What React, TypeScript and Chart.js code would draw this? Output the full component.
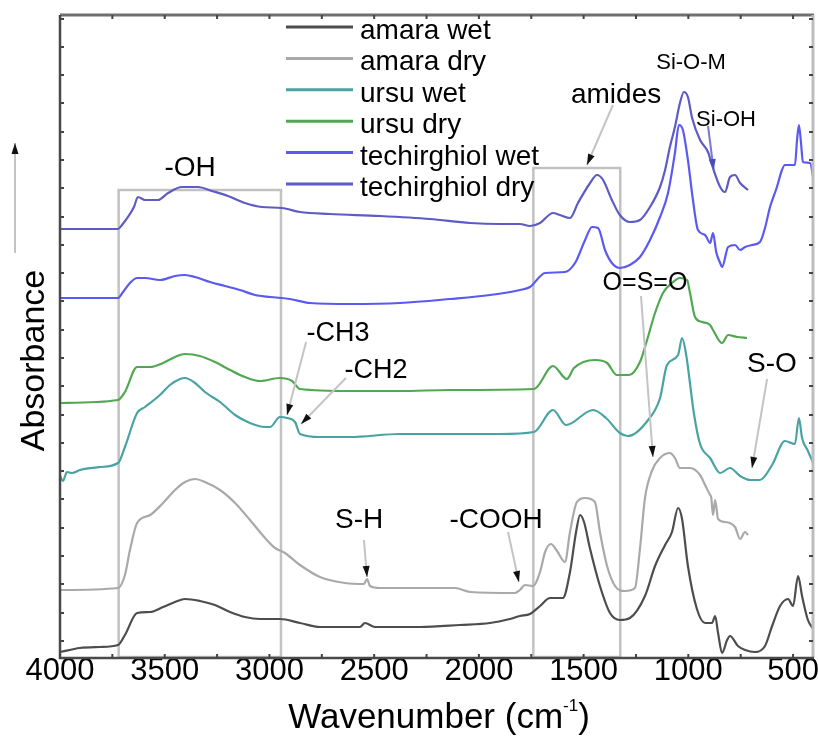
import React, { useEffect, useRef } from 'react';
import { Chart, registerables } from 'chart.js';

Chart.register(...registerables);

const FONT = '"Liberation Sans", Arial, Helvetica, sans-serif';

// ---- axis ----
const X_MIN = 400;
const X_MAX = 4000;
const X_TICKS = [4000, 3500, 3000, 2500, 2000, 1500, 1000, 500];
const X_MINOR = [4000, 3750, 3500, 3250, 3000, 2750, 2500, 2250, 2000, 1750, 1500, 1250, 1000, 750, 500];
const Y_MIN = 0;
const Y_MAX = 6.43;
const Y_MINOR = [0.17, 0.45, 0.74, 1.02, 1.3, 1.59, 1.87, 2.15, 2.43, 2.72, 3.0, 3.28, 3.57, 3.85, 4.13, 4.41, 4.7, 4.98, 5.26, 5.55, 5.83, 6.11, 6.39];
const X_TITLE = 'Wavenumber (cm';
const X_TITLE_SUP = '-1';
const X_TITLE_END = ')';
const Y_TITLE = 'Absorbance';

// ---- series (wavenumber cm-1, absorbance offset a.u.) ----
const LABELS = ['amara wet', 'amara dry', 'ursu wet', 'ursu dry', 'techirghiol wet', 'techirghiol dry'];
const COLORS = ['#4d4d4d', '#a9a9a9', '#4aa3a3', '#52a852', '#5a5af2', '#5c5cc4'];

const amaraWet: [number, number][] = [
  [4000, 0.06], [3905, 0.10], [3809, 0.11], [3723, 0.13], [3690, 0.23], [3632, 0.45], [3570, 0.46], [3508, 0.51],
  [3451, 0.56], [3403, 0.59], [3332, 0.57], [3260, 0.53], [3188, 0.46], [3117, 0.41], [3045, 0.39], [2950, 0.39],
  [2854, 0.35], [2759, 0.31], [2568, 0.31], [2544, 0.35], [2496, 0.31], [2281, 0.31], [2090, 0.33], [1947, 0.35],
  [1852, 0.39], [1804, 0.42], [1756, 0.44], [1708, 0.52], [1660, 0.60], [1599, 0.60], [1565, 0.86], [1536, 1.26],
  [1517, 1.43], [1498, 1.36], [1469, 1.09], [1422, 0.72], [1374, 0.45], [1327, 0.38], [1279, 0.40], [1207, 0.62],
  [1159, 0.92], [1111, 1.13], [1078, 1.26], [1049, 1.50], [1030, 1.39], [1002, 0.92], [959, 0.49], [920, 0.35],
  [887, 0.35], [872, 0.42], [858, 0.25], [839, 0.05], [815, 0.18], [801, 0.22], [763, 0.12], [729, 0.08],
  [682, 0.06], [634, 0.12], [600, 0.32], [562, 0.52], [524, 0.59], [500, 0.52], [476, 0.82], [457, 0.62],
  [429, 0.38], [400, 0.28],
];

const amaraDry: [number, number][] = [
  [4000, 0.68], [3723, 0.70], [3690, 0.83], [3666, 1.08], [3632, 1.35], [3570, 1.43], [3508, 1.55], [3451, 1.68],
  [3403, 1.76], [3355, 1.79], [3308, 1.76], [3236, 1.68], [3164, 1.55], [3093, 1.38], [3021, 1.20], [2973, 1.10],
  [2926, 1.05], [2854, 0.93], [2759, 0.81], [2639, 0.75], [2549, 0.74], [2534, 0.79], [2520, 0.72], [2472, 0.70],
  [2114, 0.70], [2042, 0.66], [1828, 0.65], [1804, 0.68], [1780, 0.73], [1742, 0.72], [1708, 0.86], [1684, 1.06],
  [1656, 1.14], [1627, 1.07], [1589, 0.96], [1565, 1.26], [1532, 1.56], [1493, 1.60], [1446, 1.56], [1422, 1.26],
  [1388, 0.92], [1350, 0.72], [1303, 0.67], [1255, 0.70], [1231, 1.09], [1207, 1.60], [1174, 1.87], [1135, 2.00],
  [1088, 2.05], [1064, 2.00], [1040, 1.90], [992, 1.90], [944, 1.83], [920, 1.73], [896, 1.63], [891, 1.61],
  [882, 1.43], [872, 1.58], [858, 1.39], [825, 1.36], [777, 1.31], [753, 1.19], [729, 1.26], [715, 1.23],
];

const ursuWet: [number, number][] = [
  [4000, 1.82], [3986, 1.77], [3967, 1.86], [3943, 1.85], [3905, 1.88], [3809, 1.91], [3723, 1.95], [3690, 2.11],
  [3632, 2.45], [3594, 2.51], [3523, 2.63], [3475, 2.73], [3427, 2.79], [3403, 2.80], [3355, 2.75], [3308, 2.66],
  [3236, 2.56], [3164, 2.43], [3093, 2.35], [3021, 2.31], [2997, 2.31], [2950, 2.41], [2916, 2.40], [2878, 2.36],
  [2854, 2.24], [2759, 2.21], [2615, 2.21], [2377, 2.24], [1899, 2.24], [1737, 2.26], [1646, 2.48], [1584, 2.33],
  [1455, 2.48], [1393, 2.40], [1327, 2.25], [1288, 2.22], [1192, 2.38], [1135, 2.60], [1102, 2.93], [1049, 3.03],
  [1030, 3.20], [1011, 3.04], [973, 2.44], [944, 2.14], [896, 2.00], [848, 1.85], [801, 1.90], [753, 1.82],
  [705, 1.78], [658, 1.78], [600, 1.93], [539, 2.17], [491, 2.14], [472, 2.40], [457, 2.20], [429, 2.07],
  [400, 1.93],
];

const ursuDry: [number, number][] = [
  [4000, 2.55], [3723, 2.58], [3690, 2.66], [3632, 2.91], [3570, 2.91], [3508, 2.95], [3451, 3.01], [3403, 3.04],
  [3332, 3.02], [3260, 2.96], [3188, 2.88], [3117, 2.81], [3045, 2.77], [2950, 2.80], [2892, 2.77], [2854, 2.69],
  [2615, 2.67], [2377, 2.67], [2138, 2.68], [1737, 2.69], [1646, 2.92], [1580, 2.79], [1546, 2.90], [1446, 2.98],
  [1388, 2.95], [1341, 2.83], [1283, 2.83], [1231, 2.96], [1197, 3.18], [1159, 3.45], [1121, 3.65], [1078, 3.75],
  [1040, 3.80], [1006, 3.78], [992, 3.65], [968, 3.41], [934, 3.36], [896, 3.33], [882, 3.28], [839, 3.15],
  [810, 3.23], [767, 3.21], [720, 3.20],
];

const techirghiolWet: [number, number][] = [
  [4000, 3.60], [3723, 3.60], [3699, 3.66], [3666, 3.75], [3632, 3.80], [3594, 3.80], [3523, 3.78], [3451, 3.82],
  [3403, 3.83], [3355, 3.81], [3284, 3.76], [3212, 3.72], [3141, 3.68], [3069, 3.63], [2997, 3.61], [2902, 3.59],
  [2806, 3.55], [2615, 3.54], [2377, 3.55], [2138, 3.59], [1947, 3.63], [1804, 3.68], [1756, 3.71], [1684, 3.85],
  [1589, 3.86], [1541, 3.95], [1493, 4.18], [1460, 4.31], [1431, 4.30], [1398, 4.08], [1365, 3.95], [1327, 3.90],
  [1279, 3.93], [1231, 4.01], [1183, 4.18], [1135, 4.41], [1097, 4.65], [1064, 5.05], [1045, 5.33], [1026, 5.28],
  [1002, 4.98], [978, 4.58], [954, 4.28], [920, 4.23], [896, 4.15], [882, 4.25], [867, 4.06], [848, 3.95],
  [839, 3.91], [810, 4.11], [777, 4.13], [753, 4.08], [729, 4.11], [696, 4.13], [658, 4.16], [634, 4.30],
  [610, 4.51], [577, 4.71], [553, 4.88], [539, 4.93], [491, 4.93], [481, 5.18], [472, 5.33], [462, 5.15],
  [453, 4.96], [419, 4.95], [400, 4.75],
];

const techirghiolDry: [number, number][] = [
  [4000, 4.29], [3723, 4.29], [3704, 4.33], [3647, 4.51], [3628, 4.61], [3594, 4.58], [3532, 4.58], [3484, 4.65],
  [3418, 4.71], [3341, 4.71], [3274, 4.67], [3198, 4.62], [3117, 4.55], [3036, 4.51], [2940, 4.50], [2854, 4.46],
  [2711, 4.44], [2472, 4.42], [2233, 4.39], [2042, 4.35], [1899, 4.34], [1804, 4.34], [1756, 4.32], [1708, 4.35],
  [1646, 4.45], [1613, 4.43], [1565, 4.40], [1527, 4.55], [1469, 4.75], [1436, 4.83], [1407, 4.78], [1365, 4.58],
  [1327, 4.43], [1279, 4.36], [1231, 4.38], [1183, 4.51], [1135, 4.71], [1111, 4.88], [1088, 5.11], [1064, 5.31],
  [1040, 5.55], [1021, 5.66], [1002, 5.61], [982, 5.40], [944, 5.18], [906, 5.06], [887, 4.93], [848, 4.71],
  [825, 4.66], [801, 4.81], [777, 4.83], [753, 4.75], [715, 4.68],
];

const SERIES = [amaraWet, amaraDry, ursuWet, ursuDry, techirghiolWet, techirghiolDry];

// ---- annotations (wavenumber, absorbance) ----
const BOXES: [number, number, number][] = [
  [3720, 2945, 4.68],
  [1740, 1325, 4.9],
];
const NOTE_TEXT = ['-OH', 'amides', 'Si-O-M', 'Si-OH', 'O=S=O', '-CH3', '-CH2', 'S-O', 'S-H', '-COOH'];
const NOTE_X = [3379, 1345, 987, 820, 1207, 2673, 2491, 601, 2572, 1918];
const NOTE_Y = [4.9, 5.63, 5.95, 5.38, 3.75, 3.24, 2.87, 2.94, 1.38, 1.38];
const NOTE_SIZE = [28, 28, 22, 22, 25, 27, 27, 28, 28, 28];
// arrows: [fromX, fromY, toX, toY]
const ARROWS: [number, number, number, number][] = [
  [1360, 5.53, 1484, 4.93],
  [1226, 3.62, 1169, 2.01],
  [2825, 3.16, 2916, 2.43],
  [2635, 2.80, 2849, 2.34],
  [624, 2.79, 696, 1.90],
  [2549, 1.18, 2534, 0.81],
  [1861, 1.26, 1809, 0.76],
];
const SIOH_ARROW: [number, number, number, number] = [906, 5.32, 879, 4.88];

function drawArrow(ctx: CanvasRenderingContext2D, x1: number, y1: number, x2: number, y2: number, line: string, head: string) {
  ctx.save();
  ctx.strokeStyle = line;
  ctx.lineWidth = 2;
  ctx.beginPath();
  ctx.moveTo(x1, y1);
  ctx.lineTo(x2, y2);
  ctx.stroke();
  const ang = Math.atan2(y2 - y1, x2 - x1);
  const len = 11;
  const w = 3.5;
  const bx = x2 - Math.cos(ang) * len;
  const by = y2 - Math.sin(ang) * len;
  ctx.fillStyle = head;
  ctx.beginPath();
  ctx.moveTo(x2, y2);
  ctx.lineTo(bx + Math.sin(ang) * w, by - Math.cos(ang) * w);
  ctx.lineTo(bx - Math.sin(ang) * w, by + Math.cos(ang) * w);
  ctx.closePath();
  ctx.fill();
  ctx.restore();
}

const boxPlugin = {
  id: 'boxes',
  beforeDatasetsDraw(chart: any) {
    const { ctx, scales } = chart;
    const xs = scales.x;
    const ys = scales.y;
    ctx.save();
    ctx.strokeStyle = '#c2c2c2';
    ctx.lineWidth = 2.5;
    BOXES.forEach(([a, b, top]) => {
      const x1 = xs.getPixelForValue(a);
      const x2 = xs.getPixelForValue(b);
      const y1 = ys.getPixelForValue(top);
      const y2 = ys.getPixelForValue(Y_MIN) - 1;
      ctx.strokeRect(x1, y1, x2 - x1, y2 - y1);
    });
    ctx.restore();
  },
};

const decorPlugin = {
  id: 'decor',
  afterDraw(chart: any) {
    const { ctx, chartArea: a, scales } = chart;
    const xs = scales.x;
    const ys = scales.y;
    ctx.save();

    // frame
    ctx.lineCap = 'butt';
    ctx.strokeStyle = '#707070';
    ctx.lineWidth = 3;
    ctx.beginPath();
    ctx.moveTo(a.left, a.top);
    ctx.lineTo(a.right, a.top);
    ctx.stroke();
    ctx.strokeStyle = '#bdbdbd';
    ctx.beginPath();
    ctx.moveTo(a.right - 1, a.top);
    ctx.lineTo(a.right - 1, a.bottom);
    ctx.stroke();
    ctx.strokeStyle = '#4a4a4a';
    ctx.lineWidth = 2.5;
    ctx.beginPath();
    ctx.moveTo(a.left, a.top);
    ctx.lineTo(a.left, a.bottom);
    ctx.lineTo(a.right, a.bottom);
    ctx.stroke();

    // minor ticks
    ctx.strokeStyle = '#444';
    ctx.lineWidth = 2;
    ctx.beginPath();
    Y_MINOR.forEach((v) => {
      const y = ys.getPixelForValue(v);
      ctx.moveTo(a.left, y);
      ctx.lineTo(a.left + 4, y);
      ctx.moveTo(a.right - 1, y);
      ctx.lineTo(a.right - 5, y);
    });
    X_MINOR.forEach((v) => {
      const x = xs.getPixelForValue(v);
      ctx.moveTo(x, a.top);
      ctx.lineTo(x, a.top + 4);
      ctx.moveTo(x, a.bottom);
      ctx.lineTo(x, a.bottom - 4);
    });
    ctx.stroke();

    // arrows
    ARROWS.forEach(([x1, y1, x2, y2]) => {
      drawArrow(ctx, xs.getPixelForValue(x1), ys.getPixelForValue(y1), xs.getPixelForValue(x2), ys.getPixelForValue(y2), '#c4c4c4', '#111');
    });
    drawArrow(ctx, xs.getPixelForValue(SIOH_ARROW[0]), ys.getPixelForValue(SIOH_ARROW[1]), xs.getPixelForValue(SIOH_ARROW[2]), ys.getPixelForValue(SIOH_ARROW[3]), '#7a7ad0', '#4a4ab8');

    // notes
    ctx.fillStyle = '#000';
    ctx.textBaseline = 'middle';
    ctx.textAlign = 'center';
    NOTE_TEXT.forEach((t, i) => {
      ctx.font = `${NOTE_SIZE[i]}px ${FONT}`;
      ctx.fillText(t, xs.getPixelForValue(NOTE_X[i]), ys.getPixelForValue(NOTE_Y[i]));
    });

    // legend
    ctx.textAlign = 'left';
    ctx.textBaseline = 'alphabetic';
    ctx.font = `28px ${FONT}`;
    chart.data.datasets.forEach((ds: any, i: number) => {
      const y = a.top + 12 + i * 31.4;
      ctx.strokeStyle = ds.borderColor;
      ctx.lineWidth = 3;
      ctx.beginPath();
      ctx.moveTo(a.left + 226, y);
      ctx.lineTo(a.left + 293, y);
      ctx.stroke();
      ctx.fillStyle = '#000';
      ctx.fillText(ds.label, a.left + 300, y + 12);
    });

    // x title
    ctx.font = `35px ${FONT}`;
    const w1 = ctx.measureText(X_TITLE).width;
    ctx.font = `17px ${FONT}`;
    const w2 = ctx.measureText(X_TITLE_SUP).width;
    ctx.font = `35px ${FONT}`;
    const w3 = ctx.measureText(X_TITLE_END).width;
    const cx = (a.left + a.right) / 2 + 2;
    let tx = cx - (w1 + w2 + w3) / 2;
    const ty = a.bottom + 70;
    ctx.fillStyle = '#000';
    ctx.fillText(X_TITLE, tx, ty);
    tx += w1;
    ctx.font = `17px ${FONT}`;
    ctx.fillText(X_TITLE_SUP, tx, ty - 17);
    tx += w2;
    ctx.font = `35px ${FONT}`;
    ctx.fillText(X_TITLE_END, tx, ty);

    // y title
    ctx.save();
    ctx.translate(a.left - 16, (a.top + a.bottom) / 2 + 24);
    ctx.rotate(-Math.PI / 2);
    ctx.textAlign = 'center';
    ctx.textBaseline = 'alphabetic';
    ctx.font = `34px ${FONT}`;
    ctx.fillText(Y_TITLE, 0, 0);
    ctx.restore();

    // y arrow
    drawArrow(ctx, a.left - 45, ys.getPixelForValue(4.05), a.left - 45, ys.getPixelForValue(5.15), '#c4c4c4', '#111');

    ctx.restore();
  },
};

export default function App() {
  const ref = useRef<HTMLCanvasElement | null>(null);

  useEffect(() => {
    if (!ref.current) return;
    const chart = new Chart(ref.current, {
      type: 'line',
      data: {
        datasets: SERIES.map((s, i) => ({
          label: LABELS[i],
          data: s.map(([x, y]) => ({ x, y })),
          borderColor: COLORS[i],
          backgroundColor: COLORS[i],
          borderWidth: 2.2,
          pointRadius: 0,
          fill: false,
          cubicInterpolationMode: 'monotone',
        })),
      },
      options: {
        animation: false,
        responsive: false,
        devicePixelRatio: 1,
        layout: { autoPadding: false, padding: { top: 15, right: 4, left: 0, bottom: 0 } },
        plugins: { legend: { display: false }, tooltip: { enabled: false }, title: { display: false } },
        scales: {
          x: {
            type: 'linear',
            reverse: true,
            min: X_MIN,
            max: X_MAX,
            afterBuildTicks: (s: any) => {
              s.ticks = X_TICKS.map((v) => ({ value: v }));
            },
            afterFit: (s: any) => {
              s.height = 84;
            },
            grid: { display: false, drawTicks: false },
            border: { display: false },
            ticks: {
              color: '#000',
              font: { family: FONT, size: 31 },
              maxRotation: 0,
              autoSkip: false,
              padding: -5,
              callback: (v: any) => String(v),
            },
          },
          y: {
            min: Y_MIN,
            max: Y_MAX,
            afterFit: (s: any) => {
              s.width = 60;
            },
            grid: { display: false, drawTicks: false },
            border: { display: false },
            ticks: { display: false },
          },
        },
      },
      plugins: [boxPlugin, decorPlugin],
    } as any);
    return () => chart.destroy();
  }, []);

  return (
    <div style={{ position: 'absolute', left: 0, top: 0, width: 818, height: 742, background: '#fff' }}>
      <canvas ref={ref} width={818} height={742} style={{ display: 'block' }} />
    </div>
  );
}
